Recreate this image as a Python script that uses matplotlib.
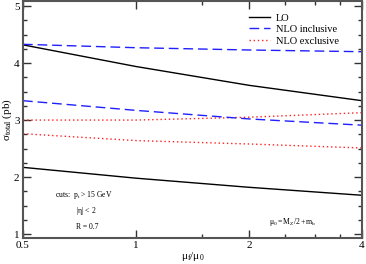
import numpy as np
import matplotlib.pyplot as plt
from matplotlib.ticker import FixedLocator, NullFormatter

plt.rcParams['font.family'] = ['Liberation Serif', 'DejaVu Serif']
plt.rcParams['mathtext.fontset'] = 'custom'
plt.rcParams['mathtext.rm'] = 'Liberation Serif'
plt.rcParams['mathtext.it'] = 'Liberation Serif'

mu = [0.5, 1, 2, 4]
lo_hi = [4.32, 3.94, 3.61, 3.34]
lo_lo = [2.17, 1.98, 1.82, 1.68]
nlo_inc_hi = [4.33, 4.27, 4.23, 4.20]
nlo_inc_lo = [3.34, 3.17, 3.02, 2.91]
nlo_exc_hi = [3.00, 3.00, 3.05, 3.13]
nlo_exc_lo = [2.76, 2.64, 2.58, 2.51]

fig = plt.figure(figsize=(3.66, 2.64), dpi=100)
ax = fig.add_axes([23 / 366, 26 / 264, 339 / 366, 237 / 264])

ax.plot(mu, lo_hi, color='black', lw=1.0, label='LO')
ax.plot(mu, nlo_inc_hi, color='#2020ff', lw=1.0, dashes=(7, 3.5), label='NLO inclusive')
ax.plot(mu, nlo_exc_hi, color='#ff2020', lw=1.0, ls=(0, (1, 2)), label='NLO exclusive')
ax.plot(mu, lo_lo, color='black', lw=1.0)
ax.plot(mu, nlo_inc_lo, color='#2020ff', lw=1.0, dashes=(7, 3.5))
ax.plot(mu, nlo_exc_lo, color='#ff2020', lw=1.0, ls=(0, (1, 2)))

ax.set_xscale('log')
ax.set_xlim(0.5, 4)
ax.set_ylim(0.93, 5.09)
ax.xaxis.set_major_locator(FixedLocator([0.5, 1, 2, 4]))
ax.xaxis.set_minor_locator(FixedLocator([1.5, 2.5, 3, 3.5]))
ax.xaxis.set_major_formatter(plt.FuncFormatter(lambda v, p: f'{v:g}'))
ax.xaxis.set_minor_formatter(NullFormatter())
ax.set_yticks([1, 2, 3, 4, 5])
ax.yaxis.set_minor_locator(FixedLocator(np.arange(1, 5.01, 0.25)))
ax.tick_params(which='both', direction='in', top=True, right=True, labelsize=8, color='#333333', pad=2.5)
ax.tick_params(which='major', length=6, width=1)
ax.tick_params(which='minor', length=3, width=1)
for s in ax.spines.values():
    s.set_linewidth(1.5)
    s.set_color('#555555')

ax.set_xlabel(r'$\mathrm{\mu_f/\mu_0}$', fontsize=8, labelpad=0)
ax.set_ylabel(r'$\mathrm{\sigma_{total}}$ (pb)', fontsize=8, labelpad=0)

ax.legend(loc='upper right', bbox_to_anchor=(0.945, 0.965), frameon=False, fontsize=7.5,
          handlelength=2.0, handletextpad=0.6, labelspacing=0.2, borderaxespad=0)

ax.text(0.095, 0.175, r'cuts:  $\mathrm{p_t}$ > 15 GeV', transform=ax.transAxes, fontsize=5.5)
ax.text(0.155, 0.105, r'$\mathrm{|\eta|}$ < 2', transform=ax.transAxes, fontsize=5.5)
ax.text(0.155, 0.04, 'R = 0.7', transform=ax.transAxes, fontsize=5.5)
ax.text(0.725, 0.06, r'$\mathrm{\mu_0 = M_Z/2 + m_b}$', transform=ax.transAxes, fontsize=5.5)

fig.savefig('out.png', dpi=100)
